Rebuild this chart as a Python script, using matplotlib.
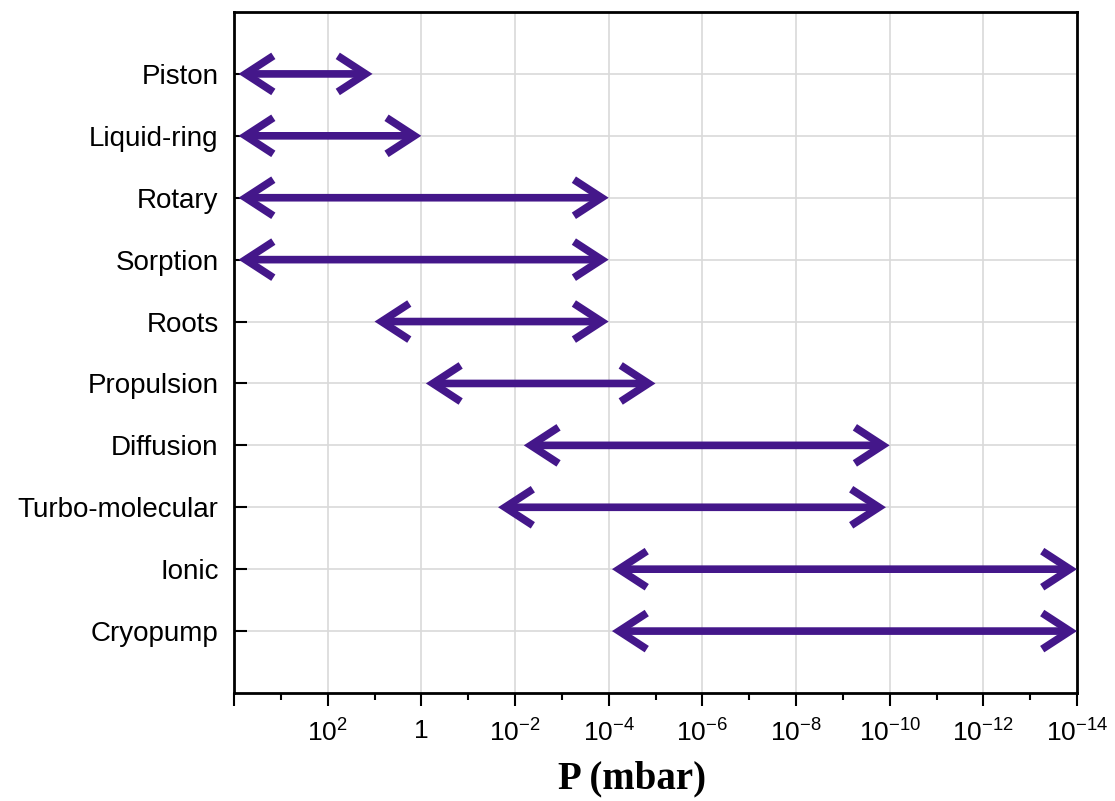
import numpy as np
import matplotlib.pyplot as plt
from matplotlib.ticker import FixedLocator, FixedFormatter

plt.rcParams['font.family'] = ['Liberation Sans', 'DejaVu Sans']
plt.rcParams['mathtext.default'] = 'regular'

# pump names, top to bottom
pumps = ['Piston', 'Liquid-ring', 'Rotary', 'Sorption', 'Roots',
         'Propulsion', 'Diffusion', 'Turbo-molecular', 'Ionic', 'Cryopump']
# working range in mbar (high pressure end, low pressure end)
p_high = [8e3, 8e3, 8e3, 8e3, 10, 0.8, 6.5e-3, 2.3e-2, 8.5e-5, 8.5e-5]
p_low = [11, 1.0, 1e-4, 1e-4, 1e-4, 1e-5, 1e-10, 1.2e-10, 1e-14, 1e-14]

major_exp = [4, 2, 0, -2, -4, -6, -8, -10, -12, -14]
major_lbl = ['', '$10^{2}$', '1', '$10^{-2}$', '$10^{-4}$', '$10^{-6}$',
             '$10^{-8}$', '$10^{-10}$', '$10^{-12}$', '$10^{-14}$']
minor_exp = [3, 1, -1, -3, -5, -7, -9, -11, -13]

col = '#44178a'

fig = plt.figure(figsize=(11.15, 8.01), dpi=100)
ax = fig.add_axes([234/1115, 1-693/801, (1077-234)/1115, (693-12)/801])

ax.set_xscale('log')
ax.set_xlim(1e4, 1e-14)
ax.set_ylim(len(pumps), -1)

for i in range(len(pumps)):
    ax.annotate('', xy=(p_low[i], i), xytext=(p_high[i], i),
                arrowprops=dict(arrowstyle='<->,head_length=2.0,head_width=1.3',
                                lw=5.5, color=col, shrinkA=0, shrinkB=0,
                                joinstyle='miter', capstyle='butt'),
                annotation_clip=False, zorder=3)

ax.xaxis.set_major_locator(FixedLocator([10.0**e for e in major_exp]))
ax.xaxis.set_major_formatter(FixedFormatter(major_lbl))
ax.xaxis.set_minor_locator(FixedLocator([10.0**e for e in minor_exp]))
ax.xaxis.set_minor_formatter(FixedFormatter([]))
ax.set_yticks(range(len(pumps)))
ax.set_yticklabels(pumps)

ax.tick_params(axis='x', which='major', direction='out', length=9, width=1.5,
               labelsize=19, pad=10)
ax.tick_params(axis='x', which='minor', direction='out', length=5, width=1.5)
ax.tick_params(axis='y', direction='in', length=9, width=1.5, labelsize=20, pad=11)

ax.grid(True, which='major', color='#d9d9d9', lw=1.2, zorder=0)
ax.set_axisbelow(True)
for s in ax.spines.values():
    s.set_linewidth(2)

ax.set_xlabel('P (mbar)', fontsize=28, fontweight='bold', family='Liberation Serif',
              x=0.472, labelpad=10)

fig.savefig('out.png', dpi=100)
